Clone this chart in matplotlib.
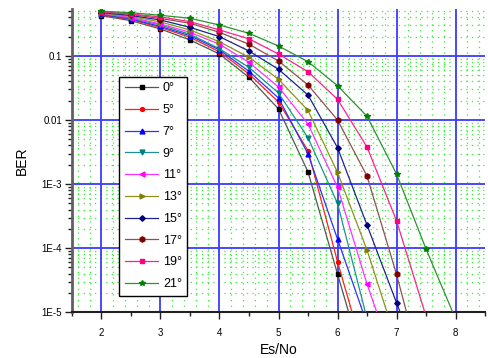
import numpy as np
import matplotlib
matplotlib.use("Agg")
import matplotlib.pyplot as plt
from matplotlib.ticker import LogLocator, FixedLocator, MultipleLocator, NullFormatter

plt.rcParams['font.family'] = ['Liberation Sans', 'DejaVu Sans']

# Es/No sample points
x_all = [2.0, 2.5, 3.0, 3.5, 4.0, 4.5, 5.0, 5.5, 6.0, 6.5, 7.0, 7.5, 8.0]

labels = ['0°', '5°', '7°', '9°', '11°', '13°', '15°', '17°', '19°', '21°']

ber_0 = [0.424, 0.354, 0.263, 0.177, 0.107, 0.0461, 0.0149, 1.55e-3, 3.96e-5, 1.05e-6]
ber_5 = [0.434, 0.370, 0.277, 0.195, 0.116, 0.0522, 0.0191, 3.32e-3, 6.15e-5, 1.56e-6]
ber_7 = [0.443, 0.376, 0.288, 0.207, 0.124, 0.0575, 0.0220, 2.95e-3, 1.39e-4, 6.6e-6]
ber_9 = [0.451, 0.390, 0.303, 0.217, 0.1295, 0.0659, 0.0264, 5.27e-3, 5.01e-4, 8.0e-6]
ber_11 = [0.459, 0.397, 0.315, 0.233, 0.152, 0.0794, 0.0327, 8.66e-3, 8.91e-4, 2.76e-5, 1.30e-6]
ber_13 = [0.467, 0.412, 0.338, 0.254, 0.166, 0.0951, 0.0432, 0.01407, 1.528e-3, 9.37e-5, 3.48e-6]
ber_15 = [0.475, 0.427, 0.363, 0.279, 0.1995, 0.119, 0.0618, 0.0245, 3.70e-3, 2.30e-4, 1.41e-5, 8.8e-7]
ber_17 = [0.484, 0.443, 0.383, 0.323, 0.233, 0.152, 0.0832, 0.0352, 0.0100, 1.337e-3, 3.92e-5, 7.1e-7]
ber_19 = [0.489, 0.451, 0.405, 0.342, 0.254, 0.184, 0.107, 0.0567, 0.0210, 3.79e-3, 2.69e-4, 8.7e-6]
ber_21 = [0.498, 0.472, 0.430, 0.386, 0.303, 0.225, 0.1427, 0.0811, 0.0343, 0.01143, 1.438e-3, 9.72e-5, 7.9e-6]

series = [ber_0, ber_5, ber_7, ber_9, ber_11, ber_13, ber_15, ber_17, ber_19, ber_21]
colors = ['#000000', '#ff0000', '#0000ff', '#008080', '#ff00ff',
          '#808000', '#000080', '#800000', '#ff0080', '#008000']
line_colors = ['#555555', '#ff2020', '#3030ff', '#209090', '#ff30ff',
               '#909020', '#202090', '#905050', '#ff2090', '#309030']
markers = ['s', 'o', '^', 'v', '<', '>', 'D', 'h', 's', '*']
msizes = [2.8, 2.8, 3.5, 3.5, 3.5, 3.5, 2.8, 3.8, 3.2, 4.2]

fig = plt.figure(figsize=(4.88, 3.58), dpi=100)
ax = fig.add_axes([0.1475, 0.1277, 0.8464, 0.8463])

for ys, lab, c, lc, m, ms in zip(series, labels, colors, line_colors, markers, msizes):
    xs = x_all[:len(ys)]
    ax.plot(xs, ys, color=lc, lw=0.9, marker=m, markersize=ms,
            markerfacecolor=c, markeredgecolor=c, label=lab, zorder=3)

ax.set_yscale('log')
ax.set_xlim(1.5, 8.5)
ax.set_ylim(1e-5, 0.533)

# ticks
ax.yaxis.set_major_locator(FixedLocator([1e-5, 1e-4, 1e-3, 1e-2, 1e-1]))
ax.set_yticklabels(['1E-5', '1E-4', '1E-3', '0.01', '0.1'])
ax.yaxis.set_minor_locator(LogLocator(base=10, subs=np.arange(2, 10), numticks=20))
ax.yaxis.set_minor_formatter(NullFormatter())
ax.xaxis.set_major_locator(MultipleLocator(1))
ax.xaxis.set_minor_locator(MultipleLocator(0.5))

# green dotted fine grid
gstyle = dict(color='#33ee33', lw=0.9, ls=(0, (1, 3.5)), zorder=0.5)
for gx in np.arange(1.6, 8.5, 0.2):
    if abs(gx - round(gx)) > 1e-6:
        ax.axvline(gx, **gstyle)
for dec in [1e-5, 1e-4, 1e-3, 1e-2, 1e-1]:
    for s in range(2, 10):
        v = dec * s
        if v < 0.533:
            ax.axhline(v, **gstyle)
# blue major grid
for gx in range(2, 9):
    ax.axvline(gx, color='#3a3aff', lw=1.3, zorder=1)
for gy in [1e-4, 1e-3, 1e-2, 1e-1]:
    ax.axhline(gy, color='#3a3aff', lw=1.3, zorder=1)

ax.spines['top'].set_visible(False)
ax.spines['right'].set_visible(False)
ax.spines['left'].set_color('#606060')
ax.spines['left'].set_linewidth(2)
ax.spines['bottom'].set_color('#202020')
ax.spines['bottom'].set_linewidth(1.5)

ax.tick_params(axis='both', which='major', direction='out', length=5, width=1,
               labelsize=7, pad=2, color='#202020')
ax.tick_params(axis='y', which='minor', direction='out', length=3, width=1, color='#202020')
ax.tick_params(axis='x', which='minor', direction='out', length=3, width=1, color='#202020')
ax.tick_params(axis='x', which='major', pad=6)

ax.set_xlabel('Es/No', fontsize=10, labelpad=4)
ax.set_ylabel('BER', fontsize=10, labelpad=9)

leg = ax.legend(loc='upper left', bbox_to_anchor=(0.114, 0.777), borderaxespad=0,
                fontsize=9, numpoints=1, handlelength=2.7, handletextpad=0.35,
                labelspacing=0.78, borderpad=0.45, fancybox=False, framealpha=1,
                edgecolor='black')
leg.get_frame().set_linewidth(1.0)
leg.set_zorder(5)

fig.savefig('out.png', dpi=100)
